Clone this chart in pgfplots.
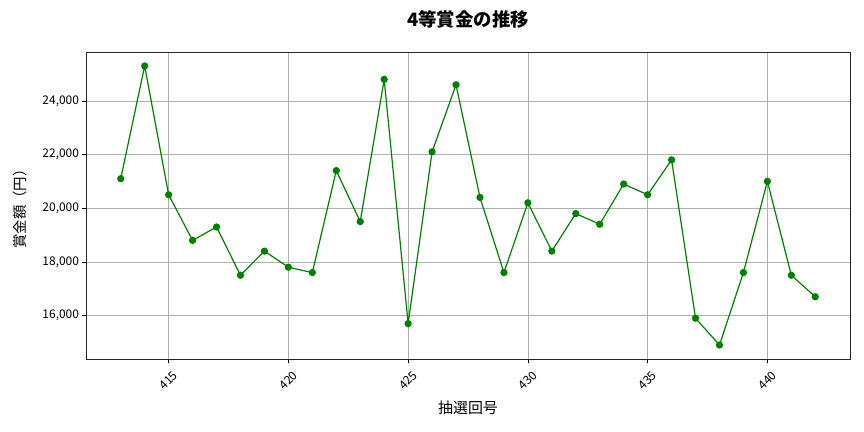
\documentclass[border=0pt]{standalone}
\usepackage{fontspec}
\setmainfont{Noto Sans CJK JP}
\usepackage{pgfplots}
\pgfplotsset{compat=1.18}
\usepackage{pgfplotstable}

\definecolor{mplgreen}{RGB}{0,128,0}
\definecolor{gridgray}{RGB}{176,176,176}

\pgfplotstableread{
kai prize
413 21100
414 25300
415 20500
416 18800
417 19300
418 17500
419 18400
420 17800
421 17600
422 21400
423 19500
424 24800
425 15700
426 22100
427 24600
428 20400
429 17600
430 20200
431 18400
432 19800
433 19400
434 20900
435 20500
436 21800
437 15900
438 14900
439 17600
440 21000
441 17500
442 16700
}\prizedata

\begin{document}
\begin{tikzpicture}
\path[use as bounding box] (0,0) rectangle (864bp,432bp);
\begin{axis}[
    at={(86bp,73bp)}, anchor=south west,
    width=764bp, height=307bp,
    scale only axis,
    xmin=411.55, xmax=443.45,
    ymin=14380, ymax=25820,
    xtick={415,420,425,430,435,440},
    ytick={16000,18000,20000,22000,24000},
    scaled y ticks=false,
    /pgf/number format/.cd, 1000 sep={,}, assume math mode=true,
    /pgfplots/.cd,
    tick pos=left,
    tick align=outside,
    major tick length=3.5bp,
    tick style={black, line width=0.6pt},
    axis line style={black!85, line width=0.8pt},
    grid=major,
    major grid style={gridgray, line width=0.6pt},
    ticklabel style={font=\fontsize{12}{14}\selectfont},
    xticklabel style={yshift=-18bp, rotate=45, anchor=center},
    title={\textbf{4等賞金の推移}},
    title style={font=\fontsize{18.5}{20}\selectfont, at={(axis description cs:0.5,1.088)}, anchor=center},
    xlabel={抽選回号},
    xlabel style={font=\fontsize{15}{16}\selectfont, at={(axis description cs:0.5,-0.16)}, anchor=center},
    ylabel={賞金額（円）},
    ylabel style={font=\fontsize{14.5}{16}\selectfont, at={(axis description cs:-0.0865,0.5)}, anchor=center},
]
\addplot[mplgreen, line width=1.2pt, mark=*, mark size=3bp, mark options={fill=mplgreen, draw=mplgreen}]
    table[x=kai, y=prize] {\prizedata};
\end{axis}
\end{tikzpicture}
\end{document}
